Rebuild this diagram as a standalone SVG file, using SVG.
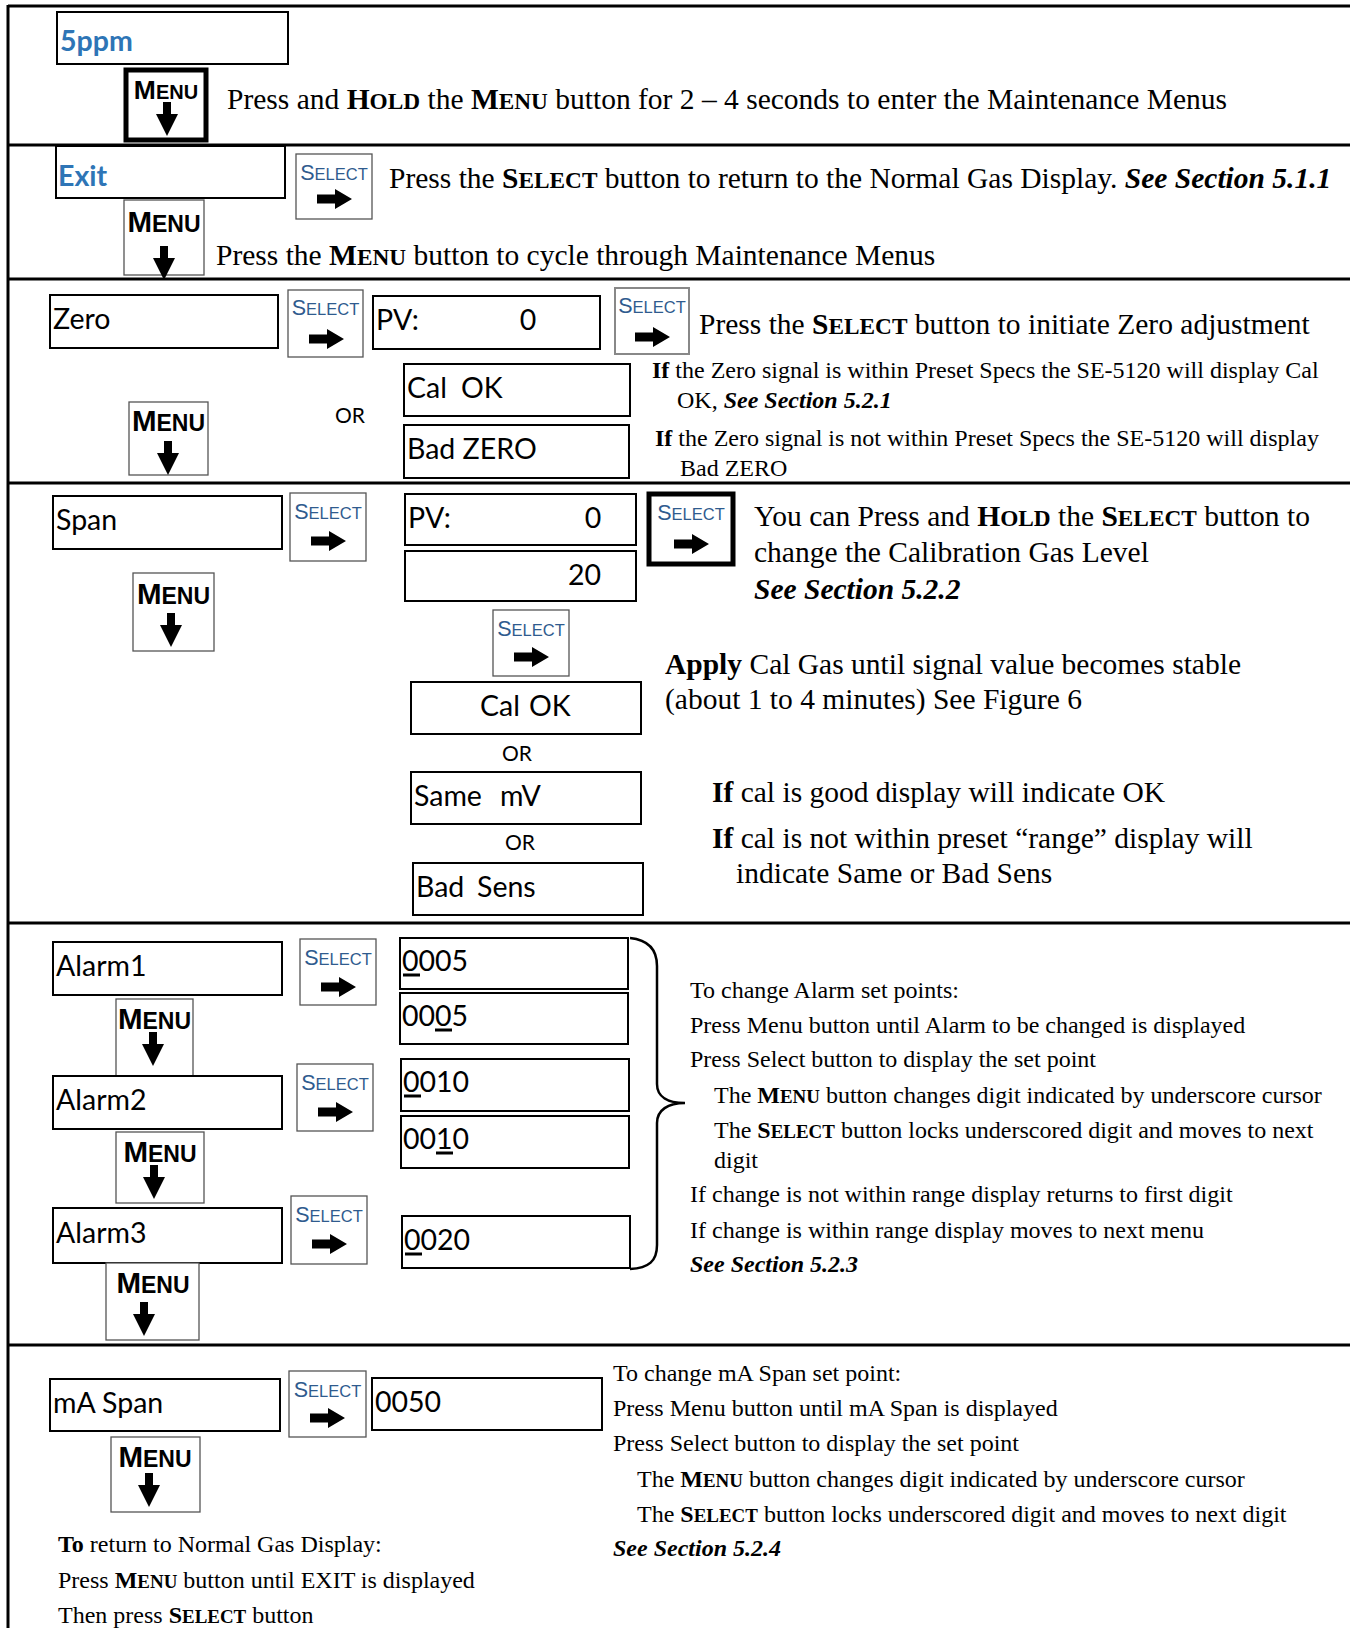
<svg xmlns="http://www.w3.org/2000/svg" width="1350" height="1628" viewBox="0 0 1350 1628">
<style>
.frame{stroke:#000;stroke-width:3;fill:none}
.disp{fill:#fff;stroke:#000;stroke-width:2}
.btn{fill:#fff;stroke:#555;stroke-width:1.3}
.btnk{fill:#fff;stroke:#000;stroke-width:5}
.dt{font-family:Lato,"Liberation Sans",sans-serif;font-size:28.5px;fill:#000}
.blue{fill:#2e75b6;font-weight:bold}
.or{font-family:Lato,"Liberation Sans",sans-serif;font-size:21px;fill:#000}
.sl{font-family:"Liberation Sans",Arial,sans-serif;font-size:16.5px;fill:#2f5b8e;text-anchor:middle}
.sl .c{font-size:21.5px}
.mn{font-family:"Liberation Sans",Arial,sans-serif;font-weight:bold;font-size:23px;fill:#000;text-anchor:middle}
.mn .c{font-size:29.5px}
.mn.sm{font-size:20px}
.mn.sm .c{font-size:26.5px}
.tl{font-family:"Liberation Serif","Times New Roman",serif;font-size:29.5px;fill:#000}
.ts{font-family:"Liberation Serif","Times New Roman",serif;font-size:24px;fill:#000}
.b{font-weight:bold}
.bi{font-weight:bold;font-style:italic}
.sc{font-weight:bold;font-size:0.79em}
.ul{stroke:#000;stroke-width:3}
.brace{fill:none;stroke:#000;stroke-width:2.5}
</style>
<defs>
<path id="darr" d="M-4,0 H4 V12 H11 L0,34 L-11,12 H-4 Z" fill="#000"/>
<path id="rarr" d="M0,-4.5 H18 V-10 L35,0 L18,10 V4.5 H0 Z" fill="#000"/>
</defs>

<g id="frame">
<line class="frame" x1="8" y1="6" x2="1350" y2="6"/>
<line class="frame" x1="8" y1="5" x2="8" y2="1628"/>
<line class="frame" x1="8" y1="145" x2="1350" y2="145"/>
<line class="frame" x1="8" y1="279" x2="1350" y2="279"/>
<line class="frame" x1="8" y1="483" x2="1350" y2="483"/>
<line class="frame" x1="8" y1="923" x2="1350" y2="923"/>
<line class="frame" x1="8" y1="1345" x2="1350" y2="1345"/>
</g>

<!-- Row 1 -->
<g id="d-5ppm"><rect class="disp" x="57" y="12" width="231" height="52"/><text class="dt blue" x="60" y="51">5ppm</text></g>
<g id="menu-hold"><rect class="btnk" x="126" y="70" width="80" height="70"/><text class="mn sm" x="166" y="99"><tspan class="c">M</tspan>ENU</text><use href="#darr" x="167" y="102"/></g>
<g id="t-row1"><text class="tl" x="227" y="109">Press and <tspan class="b">H</tspan><tspan class="sc">OLD</tspan> the <tspan class="b">M</tspan><tspan class="sc">ENU</tspan> button for 2 – 4 seconds to enter the Maintenance Menus</text></g>

<!-- Row 2 -->
<g id="d-exit"><rect class="disp" x="56" y="146" width="229" height="52"/><text class="dt blue" x="58" y="186">Exit</text></g>
<g id="sel-exit"><rect class="btn" x="296" y="154" width="76" height="65"/><text class="sl" x="334" y="180"><tspan class="c">S</tspan>ELECT</text><use href="#rarr" x="317" y="199"/></g>
<g id="t-row2a"><text class="tl" x="389" y="188">Press the <tspan class="b">S</tspan><tspan class="sc">ELECT</tspan> button to return to the Normal Gas Display. <tspan class="bi">See Section 5.1.1</tspan></text></g>
<g id="menu-exit"><rect class="btn" x="124" y="200" width="80" height="75"/><text class="mn" x="164" y="232"><tspan class="c">M</tspan>ENU</text><use href="#darr" x="164" y="246"/></g>
<g id="t-row2b"><text class="tl" x="216" y="265">Press the <tspan class="b">M</tspan><tspan class="sc">ENU</tspan> button to cycle through Maintenance Menus</text></g>

<!-- Row 3 -->
<g id="d-zero"><rect class="disp" x="50" y="295" width="228" height="53"/><text class="dt" x="53" y="329">Zero</text></g>
<g id="sel-zero"><rect class="btn" x="288" y="290" width="75" height="67"/><text class="sl" x="325.5" y="315"><tspan class="c">S</tspan>ELECT</text><use href="#rarr" x="309" y="339"/></g>
<g id="d-pv0"><rect class="disp" x="373" y="296" width="227" height="53"/><text class="dt" x="376" y="330">PV:</text><text class="dt" x="528" y="330" text-anchor="middle">0</text></g>
<g id="sel-zero2"><rect class="btn" x="615" y="288" width="74" height="66" style="stroke:#888;stroke-width:2"/><text class="sl" x="652" y="313"><tspan class="c">S</tspan>ELECT</text><use href="#rarr" x="635" y="337"/></g>
<g id="t-row3"><text class="tl" x="699" y="334">Press the <tspan class="b">S</tspan><tspan class="sc">ELECT</tspan> button to initiate Zero adjustment</text></g>
<g id="d-calok1"><rect class="disp" x="404" y="364" width="226" height="52"/><text class="dt" x="407" y="398">Cal<tspan x="461">OK</tspan></text></g>
<g id="d-badzero"><rect class="disp" x="404" y="425" width="225" height="53"/><text class="dt" x="407" y="459">Bad ZERO</text></g>
<g id="or1"><text class="or" x="335" y="423">OR</text></g>
<g id="menu-zero"><rect class="btn" x="129" y="402" width="79" height="73"/><text class="mn" x="168.5" y="431"><tspan class="c">M</tspan>ENU</text><use href="#darr" x="168" y="441"/></g>
<g id="t-row3b">
<text class="ts" x="652" y="378"><tspan class="b">If</tspan> the Zero signal is within Preset Specs the SE-5120 will display Cal</text>
<text class="ts" x="677" y="408">OK, <tspan class="bi">See Section 5.2.1</tspan></text>
<text class="ts" x="655" y="446"><tspan class="b">If</tspan> the Zero signal is not within Preset Specs the SE-5120 will display</text>
<text class="ts" x="680" y="476">Bad ZERO</text>
</g>

<!-- Row 4 -->
<g id="d-span"><rect class="disp" x="53" y="496" width="229" height="53"/><text class="dt" x="56" y="530">Span</text></g>
<g id="sel-span"><rect class="btn" x="290" y="493" width="76" height="68"/><text class="sl" x="328" y="519"><tspan class="c">S</tspan>ELECT</text><use href="#rarr" x="311" y="541"/></g>
<g id="menu-span"><rect class="btn" x="133" y="573" width="81" height="78"/><text class="mn" x="173.5" y="604"><tspan class="c">M</tspan>ENU</text><use href="#darr" x="171" y="613"/></g>
<g id="d-pv0b"><rect class="disp" x="405" y="494" width="231" height="51"/><text class="dt" x="408" y="528">PV:</text><text class="dt" x="593" y="528" text-anchor="middle">0</text></g>
<g id="d-20"><rect class="disp" x="405" y="551" width="231" height="50"/><text class="dt" x="601" y="585" text-anchor="end">20</text></g>
<g id="sel-hold"><rect class="btnk" x="649" y="494" width="84" height="70"/><text class="sl" x="691" y="520"><tspan class="c">S</tspan>ELECT</text><use href="#rarr" x="674" y="544"/></g>
<g id="t-row4a">
<text class="tl" x="754" y="526">You can Press and <tspan class="b">H</tspan><tspan class="sc">OLD</tspan> the <tspan class="b">S</tspan><tspan class="sc">ELECT</tspan> button to</text>
<text class="tl" x="754" y="562">change the Calibration Gas Level</text>
<text class="tl bi" x="754" y="599">See Section 5.2.2</text>
</g>
<g id="sel-apply"><rect class="btn" x="493" y="610" width="76" height="66"/><text class="sl" x="531" y="636"><tspan class="c">S</tspan>ELECT</text><use href="#rarr" x="514" y="657"/></g>
<g id="d-calok2"><rect class="disp" x="411" y="682" width="230" height="52"/><text class="dt" x="480" y="716">Cal<tspan x="529">OK</tspan></text></g>
<g id="or2"><text class="or" x="517" y="761" text-anchor="middle">OR</text></g>
<g id="d-samemv"><rect class="disp" x="411" y="772" width="230" height="52"/><text class="dt" x="414" y="806">Same<tspan x="500">mV</tspan></text></g>
<g id="or3"><text class="or" x="520" y="850" text-anchor="middle">OR</text></g>
<g id="d-badsens"><rect class="disp" x="413" y="863" width="230" height="52"/><text class="dt" x="416" y="897">Bad<tspan x="477">Sens</tspan></text></g>
<g id="t-row4b">
<text class="tl" x="665" y="674"><tspan class="b">Apply</tspan> Cal Gas until signal value becomes stable</text>
<text class="tl" x="665" y="709">(about 1 to 4 minutes) See Figure 6</text>
<text class="tl" x="712" y="802"><tspan class="b">If</tspan> cal is good display will indicate OK</text>
<text class="tl" x="712" y="848"><tspan class="b">If</tspan> cal is not within preset “range” display will</text>
<text class="tl" x="736" y="883">indicate Same or Bad Sens</text>
</g>

<!-- Row 5 -->
<g id="d-alarm1"><rect class="disp" x="53" y="942" width="229" height="53"/><text class="dt" x="56" y="976">Alarm1</text></g>
<g id="sel-a1"><rect class="btn" x="300" y="939" width="76" height="66"/><text class="sl" x="338" y="965"><tspan class="c">S</tspan>ELECT</text><use href="#rarr" x="321" y="987"/></g>
<g id="menu-a1"><rect class="btn" x="116" y="999" width="77" height="77"/><text class="mn" x="154.5" y="1029"><tspan class="c">M</tspan>ENU</text><use href="#darr" x="153" y="1032"/></g>
<g id="d-alarm2"><rect class="disp" x="53" y="1076" width="229" height="53"/><text class="dt" x="56" y="1110">Alarm2</text></g>
<g id="sel-a2"><rect class="btn" x="297" y="1064" width="76" height="67"/><text class="sl" x="335" y="1090"><tspan class="c">S</tspan>ELECT</text><use href="#rarr" x="318" y="1112"/></g>
<g id="menu-a2"><rect class="btn" x="116" y="1132" width="88" height="71"/><text class="mn" x="160" y="1162"><tspan class="c">M</tspan>ENU</text><use href="#darr" x="154" y="1165"/></g>
<g id="d-alarm3"><rect class="disp" x="53" y="1208" width="229" height="55"/><text class="dt" x="56" y="1243">Alarm3</text></g>
<g id="sel-a3"><rect class="btn" x="291" y="1196" width="76" height="68"/><text class="sl" x="329" y="1222"><tspan class="c">S</tspan>ELECT</text><use href="#rarr" x="312" y="1244"/></g>
<g id="menu-a3"><rect class="btn" x="106" y="1263" width="93" height="77"/><text class="mn" x="153" y="1293"><tspan class="c">M</tspan>ENU</text><use href="#darr" x="144" y="1302"/></g>
<g id="v-0005a"><rect class="disp" x="400" y="938" width="228" height="51"/><text class="dt" x="402" y="971">0005</text><line class="ul" x1="403" y1="975" x2="420" y2="975"/></g>
<g id="v-0005b"><rect class="disp" x="400" y="993" width="228" height="51"/><text class="dt" x="402" y="1026">0005</text><line class="ul" x1="435" y1="1030" x2="452" y2="1030"/></g>
<g id="v-0010a"><rect class="disp" x="401" y="1059" width="228" height="52"/><text class="dt" x="403" y="1092">0010</text><line class="ul" x1="404" y1="1096" x2="421" y2="1096"/></g>
<g id="v-0010b"><rect class="disp" x="401" y="1116" width="228" height="52"/><text class="dt" x="403" y="1149">0010</text><line class="ul" x1="436" y1="1153" x2="453" y2="1153"/></g>
<g id="v-0020"><rect class="disp" x="402" y="1216" width="228" height="52"/><text class="dt" x="404" y="1250">0020</text><line class="ul" x1="405" y1="1254" x2="422" y2="1254"/></g>
<g id="brace"><path class="brace" d="M630,938 C649,940 657,950 657,966 L657,1084 C657,1097 668,1103 685,1103 C668,1103 657,1110 657,1123 L657,1245 C657,1261 649,1268 630,1269"/></g>
<g id="t-row5">
<text class="ts" x="690" y="998">To change Alarm set points:</text>
<text class="ts" x="690" y="1033">Press Menu button until Alarm to be changed is displayed</text>
<text class="ts" x="690" y="1067">Press Select button to display the set point</text>
<text class="ts" x="714" y="1103">The <tspan class="b">M</tspan><tspan class="sc">ENU</tspan> button changes digit indicated by underscore cursor</text>
<text class="ts" x="714" y="1138">The <tspan class="b">S</tspan><tspan class="sc">ELECT</tspan> button locks underscored digit and moves to next</text>
<text class="ts" x="714" y="1168">digit</text>
<text class="ts" x="690" y="1202">If change is not within range display returns to first digit</text>
<text class="ts" x="690" y="1238">If change is within range display moves to next menu</text>
<text class="ts bi" x="690" y="1272">See Section 5.2.3</text>
</g>

<!-- Row 6 -->
<g id="d-maspan"><rect class="disp" x="50" y="1379" width="230" height="52"/><text class="dt" x="53" y="1413">mA Span</text></g>
<g id="sel-ma"><rect class="btn" x="289" y="1371" width="77" height="66"/><text class="sl" x="327.5" y="1397"><tspan class="c">S</tspan>ELECT</text><use href="#rarr" x="310" y="1418"/></g>
<g id="d-0050"><rect class="disp" x="372" y="1378" width="230" height="52"/><text class="dt" x="375" y="1412">0050</text></g>
<g id="menu-ma"><rect class="btn" x="111" y="1437" width="89" height="75"/><text class="mn" x="155" y="1467"><tspan class="c">M</tspan>ENU</text><use href="#darr" x="149" y="1473"/></g>
<g id="t-row6a">
<text class="ts" x="58" y="1552"><tspan class="b">To</tspan> return to Normal Gas Display:</text>
<text class="ts" x="58" y="1588">Press <tspan class="b">M</tspan><tspan class="sc">ENU</tspan> button until EXIT is displayed</text>
<text class="ts" x="58" y="1623">Then press <tspan class="b">S</tspan><tspan class="sc">ELECT</tspan> button</text>
</g>
<g id="t-row6b">
<text class="ts" x="613" y="1381">To change mA Span set point:</text>
<text class="ts" x="613" y="1416">Press Menu button until mA Span is displayed</text>
<text class="ts" x="613" y="1451">Press Select button to display the set point</text>
<text class="ts" x="637" y="1487">The <tspan class="b">M</tspan><tspan class="sc">ENU</tspan> button changes digit indicated by underscore cursor</text>
<text class="ts" x="637" y="1522">The <tspan class="b">S</tspan><tspan class="sc">ELECT</tspan> button locks underscored digit and moves to next digit</text>
<text class="ts bi" x="613" y="1556">See Section 5.2.4</text>
</g>
</svg>
